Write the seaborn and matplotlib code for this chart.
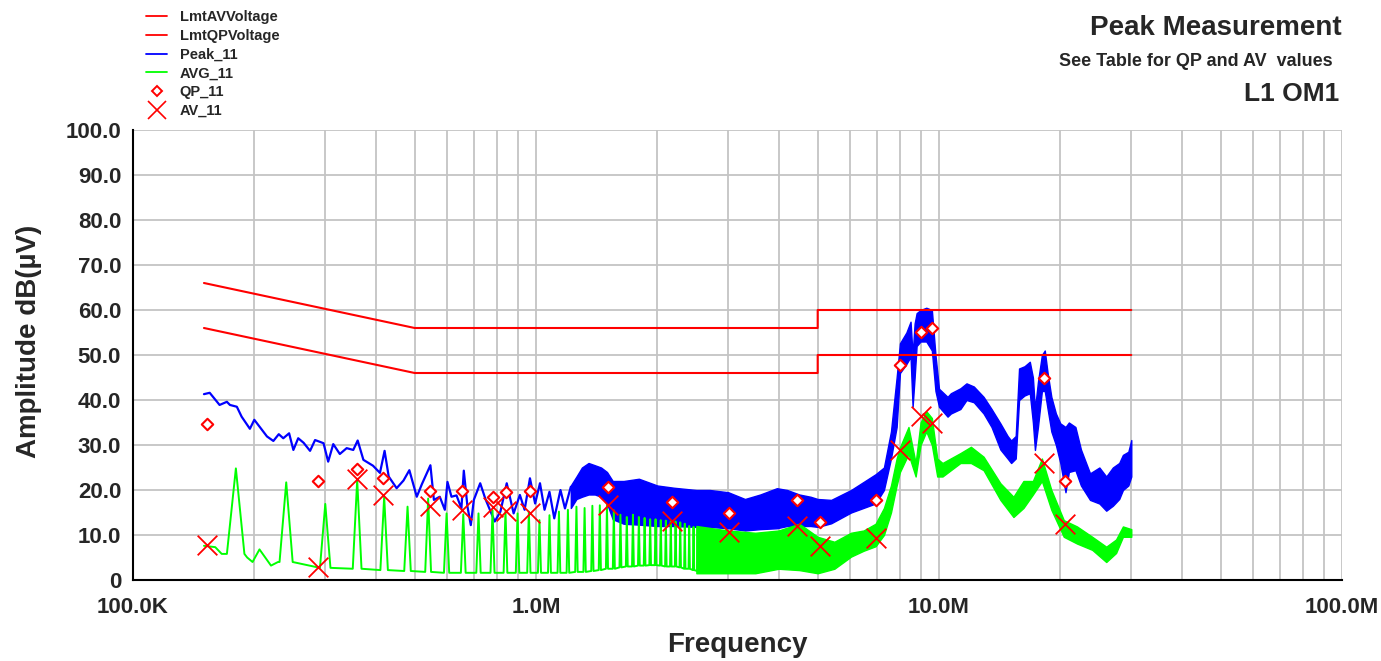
import numpy as np
import pandas as pd
import matplotlib
matplotlib.use("Agg")
import matplotlib.pyplot as plt
import seaborn as sns
from matplotlib.lines import Line2D
from matplotlib.ticker import FixedLocator, FixedFormatter, MultipleLocator, LogLocator, NullFormatter

# limit lines (Hz, dBuV)
lmt_freq = [150e3, 500e3, 5e6, 5e6, 30e6]
lmt_qp = [66, 56, 56, 60, 60]
lmt_av = [56, 46, 46, 50, 50]

# peak trace, low band (kHz, dBuV)
peak_lo_khz = [150, 155, 164, 171, 174, 181, 186, 195, 200, 215, 223, 230, 236, 244, 250, 257,
               265, 275, 283, 297, 305, 314, 326, 339, 352, 361, 373, 394, 410, 421, 431, 451,
               469, 485, 506, 521, 547, 558, 577, 594, 603, 617, 635, 653, 662, 676, 689, 701,
               727, 749, 790, 816, 846, 880, 912, 937, 966, 995, 1023, 1050, 1080, 1110, 1150,
               1180, 1220]
peak_lo_db = [41.3, 41.6, 38.9, 39.6, 38.9, 38.5, 36.3, 33.6, 35.6, 31.9, 30.9, 32.4, 31.5, 32.6,
              28.9, 31.5, 30.5, 28.7, 31.1, 30.4, 26.3, 30.2, 28.0, 29.3, 28.9, 31.0, 26.7, 25.4,
              23.8, 28.7, 23.0, 20.4, 22.1, 24.4, 18.5, 21.3, 25.5, 17.8, 18.5, 15.6, 21.8, 18.5,
              18.8, 15.9, 24.3, 16.3, 12.2, 17.8, 21.5, 18.0, 13.0, 15.2, 21.5, 14.8, 18.9, 15.6,
              22.6, 17.0, 21.5, 15.6, 19.6, 13.7, 20.0, 15.9, 20.7]

# peak trace, dense band (MHz, top / bottom of the noise band)
peak_band_mhz = [1.22, 1.26, 1.3, 1.35, 1.4, 1.45, 1.5, 1.55, 1.65, 1.8, 2.0, 2.2, 2.5, 2.7, 3.0,
                 3.3, 3.6, 3.96, 4.2, 4.5, 4.8, 5.0, 5.4, 6.05, 6.96, 7.3, 7.6, 7.85, 8.0, 8.3,
                 8.5, 8.6, 8.7, 8.8, 9.0, 9.3, 9.6, 9.8, 10.0, 10.5, 10.7, 11.3, 11.7, 12.2,
                 12.9, 13.5, 14.2, 14.8, 15.1, 15.5, 15.8, 16.3, 16.8, 17.1, 17.3, 17.6, 18.0,
                 18.3, 18.6, 19.0, 19.5, 20.0, 20.6, 21.0, 21.8, 22.5, 23.7, 25.0, 26.0, 27.0,
                 28.0, 28.6, 29.5, 30.0]
peak_band_hi = [21, 23, 25, 26, 25.5, 25, 24, 22, 22, 22.5, 21, 20.5, 20, 20, 19.5,
                18, 19, 20.4, 20, 19, 18.5, 18, 17.8, 20, 23.5, 25, 33, 45, 52.6, 55,
                57.4, 50, 57, 59.3, 60, 60.5, 60, 50, 42.5, 40.7, 41.5, 42.6, 43.7, 43,
                40.7, 38, 34.8, 32, 31, 32, 47, 47.5, 48.5, 45, 38, 44, 50,
                51, 46, 40.7, 37, 34.8, 34, 35, 34, 29, 23.7, 25, 23, 25,
                26, 27.8, 28.5, 31.1]
peak_band_lo = [16, 18, 18.5, 19, 19, 18.5, 17, 13.5, 12.5, 12.3, 12, 12, 11.8, 11.8, 11.5,
                11, 11.3, 11.5, 12, 12, 12, 11.8, 12.6, 15, 17, 20, 27, 34, 46, 48,
                49.6, 38.5, 45, 52, 53, 53, 51, 42, 38.5, 36.3, 37, 38, 40, 39.5,
                37, 34, 29, 27, 26, 27, 40, 41, 41.5, 35, 28.9, 34, 42,
                42, 38, 33, 30, 26, 19.5, 24, 24.4, 21, 17.8, 17, 15.4, 16.5,
                18, 20, 21, 23]

# average trace: floor points and harmonic spikes below 2.7 MHz (kHz, dBuV)
avg_floor_khz = [150, 160, 166, 192, 198, 206, 220, 229]
avg_floor_db = [7.6, 7.3, 5.8, 5.0, 4.0, 6.8, 3.2, 4.0]
spike_khz = [180, 240, 300, 360, 420, 480, 540, 600, 660, 720, 780, 840, 900, 960, 1020, 1080,
             1140, 1200, 1260, 1320, 1380, 1440, 1500, 1560, 1620, 1680, 1740, 1800, 1860, 1920,
             1980, 2040, 2100, 2160, 2220, 2280, 2340, 2400, 2460, 2520, 2580, 2640, 2700]
spike_db = [24.8, 21.7, 16.9, 22.2, 18.5, 16.3, 18.1, 14.8, 14.6, 14.8, 15.5, 15.2, 14.8, 15.2,
            13.3, 14.4, 15.2, 15.6, 16.3, 16.0, 16.5, 16.6, 16.7, 15.5, 14.5, 14.0, 14.5, 14.0,
            13.8, 13.5, 13.5, 13.3, 13.2, 13.0, 13.0, 12.8, 12.5, 12.0, 11.8, 11.8, 11.5, 11.3,
            11.1]
spike_foot = [5.8, 4.0, 2.7, 2.5, 2.2, 2.0, 1.8, 1.6, 1.6, 1.6, 1.6, 1.6, 1.6, 1.6, 1.6, 1.6,
              1.6, 1.6, 1.8, 1.8, 2.0, 2.2, 2.5, 2.5, 2.8, 3.0, 3.0, 3.2, 3.2, 3.3, 3.3, 3.2,
              3.0, 3.0, 3.0, 2.8, 2.5, 2.5, 2.2, 2.0, 2.0, 1.8, 1.8]

# average trace, dense band (MHz, top / bottom)
avg_band_mhz = [2.5, 3.0, 3.5, 4.0, 4.5, 5.0, 5.5, 6.05, 6.5, 6.96, 7.3, 7.6, 7.85, 8.0, 8.4,
                8.75, 9.0, 9.3, 9.6, 9.9, 10.2, 11.3, 12.0, 12.9, 14.2, 15.3, 16.2, 17.1, 18.0,
                19.0, 20.4, 22.0, 24.0, 26.0, 27.5, 28.6, 30.0]
avg_band_hi = [12, 11, 10.5, 11, 12.5, 9.6, 8.5, 10.5, 11, 12.5, 16, 21, 27, 29.5, 34,
               26, 35, 37.5, 36, 27, 26, 28.2, 29.6, 27.4, 21.5, 18.5, 22, 22, 27,
               20, 13.3, 11.9, 9.6, 7.4, 9, 11.9, 11.3]
avg_band_lo = [1.5, 1.5, 1.5, 2.5, 2.2, 1.5, 2.5, 5.2, 6.5, 7.5, 10, 15, 21, 24, 28,
               23, 30, 33, 30, 23, 23, 26, 26, 24.4, 17.8, 14, 16, 19, 22,
               15.6, 9.6, 8.1, 6.7, 4.0, 6, 9.6, 9.6]

# final measurements (MHz, dBuV)
meas_mhz = [0.153, 0.288, 0.360, 0.418, 0.547, 0.656, 0.783, 0.844, 0.968, 1.51, 2.18, 3.02,
            4.43, 5.07, 6.96, 7.98, 9.00, 9.60, 18.2, 20.5]
qp_db = [34.7, 22.0, 24.7, 22.7, 19.7, 19.8, 18.5, 19.5, 19.8, 20.6, 17.3, 15.0,
         17.7, 12.8, 17.7, 47.7, 55.2, 55.9, 44.8, 21.9]
av_db = [7.8, 2.9, 22.4, 18.8, 16.4, 15.6, 16.3, 15.4, 15.0, 16.7, 13.2, 10.7,
         11.9, 7.6, 9.3, 29.0, 36.4, 35.0, 25.9, 12.4]

xtick_vals = [1e5, 1e6, 1e7, 1e8]
xtick_labels = ["100.0K", "1.0M", "10.0M", "100.0M"]

RED, BLUE, GREEN = "#ff0000", "#0000ff", "#00ff00"

sns.set_style("white")
plt.rcParams['font.family'] = ['Liberation Sans', 'DejaVu Sans']
plt.rcParams['font.weight'] = 'bold'

fig = plt.figure(figsize=(13.81, 6.61), dpi=100)
ax = fig.add_axes([133 / 1381, 81 / 661, 1209 / 1381, 450 / 661])
ax.set_xscale('log')

# peak
peak_lo = pd.DataFrame({"f": np.array(peak_lo_khz) * 1e3, "db": peak_lo_db})
sns.lineplot(data=peak_lo, x="f", y="db", color=BLUE, lw=1.6, sort=False, estimator=None, ax=ax)
ax.fill_between(np.array(peak_band_mhz) * 1e6, peak_band_lo, peak_band_hi,
                color=BLUE, lw=1.0, zorder=2)

# average: spikes built from the harmonic list, 9 kHz RBW wide at the foot
rbw = 9e3
pts = list(zip(np.array(avg_floor_khz) * 1e3, avg_floor_db))
for f, p, b in zip(spike_khz, spike_db, spike_foot):
    pts += [(f * 1e3 - rbw, b), (f * 1e3, p), (f * 1e3 + rbw, b)]
avg_lo = pd.DataFrame(sorted(pts), columns=["f", "db"])
sns.lineplot(data=avg_lo, x="f", y="db", color=GREEN, lw=1.4, sort=False, estimator=None,
             ax=ax, zorder=3)
ax.fill_between(np.array(avg_band_mhz) * 1e6, avg_band_lo, avg_band_hi,
                color=GREEN, lw=1.0, zorder=3)

# limits
lmt = pd.DataFrame({"f": lmt_freq, "qp": lmt_qp, "av": lmt_av})
sns.lineplot(data=lmt, x="f", y="qp", color=RED, lw=1.5, sort=False, estimator=None, ax=ax, zorder=4)
sns.lineplot(data=lmt, x="f", y="av", color=RED, lw=1.5, sort=False, estimator=None, ax=ax, zorder=4)

# measurement markers
meas = pd.DataFrame({"f": np.array(meas_mhz) * 1e6, "qp": qp_db, "av": av_db})
sns.scatterplot(data=meas, x="f", y="qp", marker="D", s=34, facecolor="white",
                edgecolor=RED, linewidth=1.5, ax=ax, zorder=6)
sns.scatterplot(data=meas, x="f", y="av", marker="x", s=200, color=RED,
                linewidth=1.3, ax=ax, zorder=5)

ax.set_xlim(1e5, 1e8)
ax.set_ylim(0, 100)
ax.xaxis.set_major_locator(FixedLocator(xtick_vals))
ax.xaxis.set_major_formatter(FixedFormatter(xtick_labels))
ax.xaxis.set_minor_locator(LogLocator(base=10, subs=np.arange(2, 10)))
ax.xaxis.set_minor_formatter(NullFormatter())
ax.yaxis.set_minor_locator(MultipleLocator(2.5))
ax.set_yticks(np.arange(0, 101, 10))
ax.set_yticklabels(["0"] + [f"{v:.1f}" for v in np.arange(10, 101, 10)])

ax.set_axisbelow(True)
ax.grid(which='major', color='#c4c4c4', lw=1.3)
ax.grid(which='minor', axis='x', color='#c4c4c4', lw=1.3)
for side in ['top', 'right']:
    ax.spines[side].set_visible(False)
for side in ['left', 'bottom']:
    ax.spines[side].set_color('black')
    ax.spines[side].set_linewidth(1.5)
ax.tick_params(which='major', direction='inout', length=9, width=1.3, color='black',
               labelsize=16, pad=4)
ax.tick_params(which='minor', direction='inout', length=7, width=1.3, color='black')
ax.tick_params(axis='x', which='major', length=14, pad=5)

ax.set_xlabel("Frequency", fontsize=20, fontweight='bold', va='center')
ax.set_ylabel("Amplitude dB(µV)", fontsize=20, fontweight='bold', va='center')
ax.xaxis.set_label_coords(0.5, -0.144)
ax.yaxis.set_label_coords(-0.086, 0.53)

fig.text(1342 / 1381, 1 - 28 / 661, "Peak Measurement", ha='right', va='center',
         fontsize=20, fontweight='bold')
fig.text(1333 / 1381, 1 - 61 / 661, "See Table for QP and AV  values", ha='right',
         va='center', fontsize=13, fontweight='bold')
fig.text(1339 / 1381, 1 - 94 / 661, "L1 OM1", ha='right', va='center',
         fontsize=19, fontweight='bold')

handles = [
    Line2D([], [], color=RED, lw=1.3),
    Line2D([], [], color=RED, lw=1.3),
    Line2D([], [], color=BLUE, lw=1.3),
    Line2D([], [], color=GREEN, lw=1.3),
    Line2D([], [], ls='none', marker='D', ms=5, mfc='white', mec=RED, mew=1.4),
    Line2D([], [], ls='none', marker='x', ms=13, color=RED, mew=1.2),
]
labels = ["LmtAVVoltage", "LmtQPVoltage", "Peak_11", "AVG_11", "QP_11", "AV_11"]
fig.legend(handles, labels, loc='upper left', bbox_to_anchor=(146 / 1381, 1 - 10 / 661),
           frameon=False, prop={'size': 10.5, 'weight': 'bold'}, handlelength=1.45,
           handletextpad=0.85, labelspacing=0.33, borderpad=0, borderaxespad=0)

fig.savefig("out.png", dpi=100)
